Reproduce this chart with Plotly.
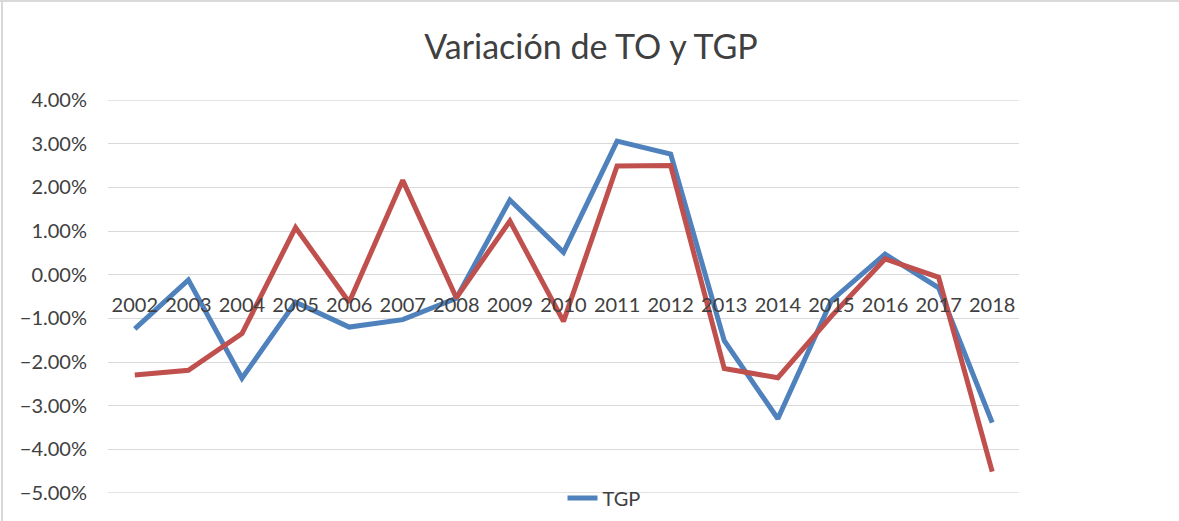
import plotly.graph_objects as go

years = [str(y) for y in range(2002, 2019)]
tgp = [-0.0124, -0.0012, -0.0237, -0.0063, -0.0120, -0.0103, -0.0054, 0.0171, 0.0051,
       0.0306, 0.0276, -0.0151, -0.0330, -0.0059, 0.0047, -0.0030, -0.0339]
to = [-0.0230, -0.0219, -0.0135, 0.0108, -0.0063, 0.0216, -0.0053, 0.0123, -0.0107,
      0.0249, 0.0250, -0.0215, -0.0236, -0.0095, 0.0036, -0.0006, -0.0451]
y_ticks = [0.04, 0.03, 0.02, 0.01, 0.0, -0.01, -0.02, -0.03, -0.04, -0.05]

W, H = 1179, 521
L, R, T, B = 108, 160, 100, 28
pw, ph = W - L - R, H - T - B
GRID = "#D9D9D9"

FONT = "Lato"
fig = go.Figure()
fig.add_trace(go.Scatter(x=years, y=tgp, name="TGP", mode="lines",
                         line=dict(color="#4F81BD", width=5), showlegend=True))
fig.add_trace(go.Scatter(x=years, y=to, name="TO", mode="lines",
                         line=dict(color="#C0504D", width=5), showlegend=False))

def px(xp):
    return (xp - L) / pw

def py(yp):
    return (H - B - yp) / ph

shapes = [
    dict(type="line", xref="paper", yref="paper", x0=px(0), x1=px(W), y0=py(1), y1=py(1),
         line=dict(color=GRID, width=2)),
    dict(type="line", xref="paper", yref="paper", x0=px(2), x1=px(2), y0=py(0), y1=py(H),
         line=dict(color=GRID, width=2)),
]
for edge in (y_ticks[0], y_ticks[-1]):
    shapes.append(dict(type="line", xref="paper", yref="y", x0=0, x1=1, y0=edge, y1=edge,
                       layer="below", line=dict(color=GRID, width=1.3)))

fig.update_layout(
    width=W, height=H,
    margin=dict(l=L, r=R, t=T, b=B, autoexpand=False),
    paper_bgcolor="white", plot_bgcolor="white",
    font=dict(family=FONT, color="#404040", size=20),
    title=dict(text="Variación de TO y TGP", xref="container", x=591 / W, xanchor="center",
               y=1 - 47 / H, yanchor="middle",
               font=dict(family=FONT, size=34, color="#404040")),
    xaxis=dict(type="category", range=[-0.5, len(years) - 0.5], anchor="free",
               position=5 / 9, showgrid=False,
               showline=False, ticks="", tickangle=0, zeroline=False,
               tickfont=dict(size=20, color="#404040"), ticklabelstandoff=16),
    yaxis=dict(range=[-0.05, 0.04], tickvals=y_ticks, tickformat=".2%",
               showgrid=True, gridcolor=GRID, gridwidth=1.3,
               zeroline=False, showline=False, ticks="",
               tickfont=dict(size=20, color="#404040"), ticklabelstandoff=20),
    legend=dict(orientation="h", x=px(604), xanchor="center", y=py(498), yanchor="middle",
                font=dict(size=20, color="#404040"), bgcolor="rgba(0,0,0,0)"),
    shapes=shapes,
)

fig.write_html("out.html", config={"displayModeBar": False},
               post_script="document.body.style.margin='0';document.body.style.overflow='hidden';")
